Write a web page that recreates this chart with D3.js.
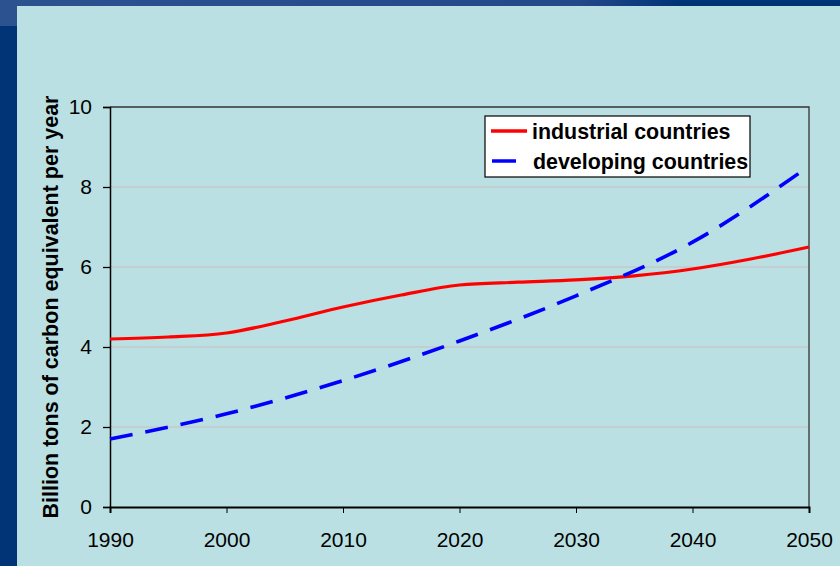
<!DOCTYPE html>
<html>
<head>
<meta charset="utf-8">
<title>Carbon emissions</title>
<script src="https://d3js.org/d3.v7.min.js"></script>
<style>
  body { margin: 0; background: #003477; }
  svg { display: block; }
  .tick text { font-family: Arial, "Liberation Sans", sans-serif; font-size: 21px; fill: #000; }
  .legend text { font-family: Arial, "Liberation Sans", sans-serif; font-weight: bold; font-size: 21.4px; }
</style>
</head>
<body>
<script>

var industrialYears = [1990, 1995, 2000, 2005, 2010, 2015, 2020, 2025, 2030, 2035, 2040, 2045, 2050];
var industrialValues = [4.2, 4.25, 4.35, 4.65, 5.0, 5.3, 5.55, 5.62, 5.68, 5.78, 5.95, 6.2, 6.5];

var developingYears = [1990, 2000, 2010, 2020, 2030, 2040, 2050];
var developingValues = [1.7, 2.33, 3.16, 4.15, 5.28, 6.62, 8.52];

var xTicks = [1990, 2000, 2010, 2020, 2030, 2040, 2050];
var yTicks = [0, 2, 4, 6, 8, 10];
var seriesNames = ["industrial countries", "developing countries"];

var width = 840, height = 566;

var svg = d3.select("body").append("svg")
    .attr("width", width)
    .attr("height", height);

// slide background
var defs = svg.append("defs");
var grad = defs.append("linearGradient").attr("id", "band")
    .attr("gradientUnits", "userSpaceOnUse")
    .attr("x1", 0).attr("x2", 680).attr("y1", 0).attr("y2", 0);
grad.append("stop").attr("offset", "0%").attr("stop-color", "#2c5290");
grad.append("stop").attr("offset", "85%").attr("stop-color", "#23498a");
grad.append("stop").attr("offset", "100%").attr("stop-color", "#003477");

svg.append("rect").attr("width", width).attr("height", height).attr("fill", "#003477");
svg.append("rect").attr("width", 680).attr("height", 26).attr("fill", "url(#band)");
svg.append("rect").attr("x", 17).attr("y", 6).attr("width", width - 17).attr("height", height - 6)
    .attr("fill", "#bae0e3");

var x = d3.scaleLinear().domain([1990, 2050]).range([110, 809]);
var y = d3.scaleLinear().domain([0, 10]).range([507, 107]);

// gridlines
svg.append("g").selectAll("line")
    .data(yTicks.filter(function(d) { return d > 0 && d < 10; }))
  .enter().append("line")
    .attr("x1", x(1990)).attr("x2", x(2050))
    .attr("y1", function(d) { return y(d); })
    .attr("y2", function(d) { return y(d); })
    .attr("stroke", "#c4c8c8").attr("stroke-width", 1.3);

// plot border top/right
svg.append("path")
    .attr("d", "M" + x(1990) + "," + y(10) + "H" + x(2050) + "V" + y(0))
    .attr("fill", "none").attr("stroke", "#333").attr("stroke-width", 1.3);

var xAxis = svg.append("g")
    .attr("transform", "translate(0," + y(0) + ")")
    .call(d3.axisBottom(x).tickValues(xTicks).tickFormat(d3.format("d")).tickSizeOuter(0).tickSize(6).tickPadding(19));
xAxis.select(".domain").attr("stroke", "#000").attr("stroke-width", 2);
xAxis.selectAll(".tick line").attr("stroke", "#000").attr("stroke-width", 1);
xAxis.attr("font-size", null).attr("font-family", null);

var yAxis = svg.append("g")
    .attr("transform", "translate(" + x(1990) + ",0)")
    .call(d3.axisLeft(y).tickValues(yTicks).tickSizeOuter(0).tickSize(7).tickPadding(11));
yAxis.select(".domain").attr("stroke", "#000").attr("stroke-width", 1.5);
yAxis.selectAll(".tick line").attr("stroke", "#000").attr("stroke-width", 1.3);
yAxis.attr("font-size", null).attr("font-family", null);

svg.append("text")
    .attr("transform", "translate(58," + y(5) + ") rotate(-90)")
    .attr("text-anchor", "middle")
    .style("font-family", "Arial, 'Liberation Sans', sans-serif")
    .style("font-weight", "bold")
    .style("font-size", "21.5px")
    .text("Billion tons of carbon equivalent per year");

var line = d3.line()
    .x(function(d) { return x(d[0]); })
    .y(function(d) { return y(d[1]); })
    .curve(d3.curveMonotoneX);

svg.append("path")
    .datum(d3.zip(industrialYears, industrialValues))
    .attr("d", line)
    .attr("fill", "none").attr("stroke", "#ff0000").attr("stroke-width", 3.2);

svg.append("path")
    .datum(d3.zip(developingYears, developingValues))
    .attr("d", line)
    .attr("fill", "none").attr("stroke", "#0000ff").attr("stroke-width", 3.6)
    .attr("stroke-dasharray", "23,13");

// legend
var legend = svg.append("g").attr("class", "legend");
legend.append("rect")
    .attr("x", 485).attr("y", 116).attr("width", 265).attr("height", 61)
    .attr("fill", "#fff").attr("stroke", "#000").attr("stroke-width", 1.2);

var colors = ["#ff0000", "#0000ff"];
seriesNames.forEach(function(name, i) {
  var ly = 131 + i * 30;
  legend.append("line")
    .attr("x1", i === 0 ? 491 : 492).attr("x2", i === 0 ? 527 : 516)
    .attr("y1", ly).attr("y2", ly)
    .attr("stroke", colors[i]).attr("stroke-width", 3.5);
  legend.append("text")
    .attr("x", i === 0 ? 532 : 533).attr("y", ly + 8)
    .text(name);
});

</script>
</body>
</html>
